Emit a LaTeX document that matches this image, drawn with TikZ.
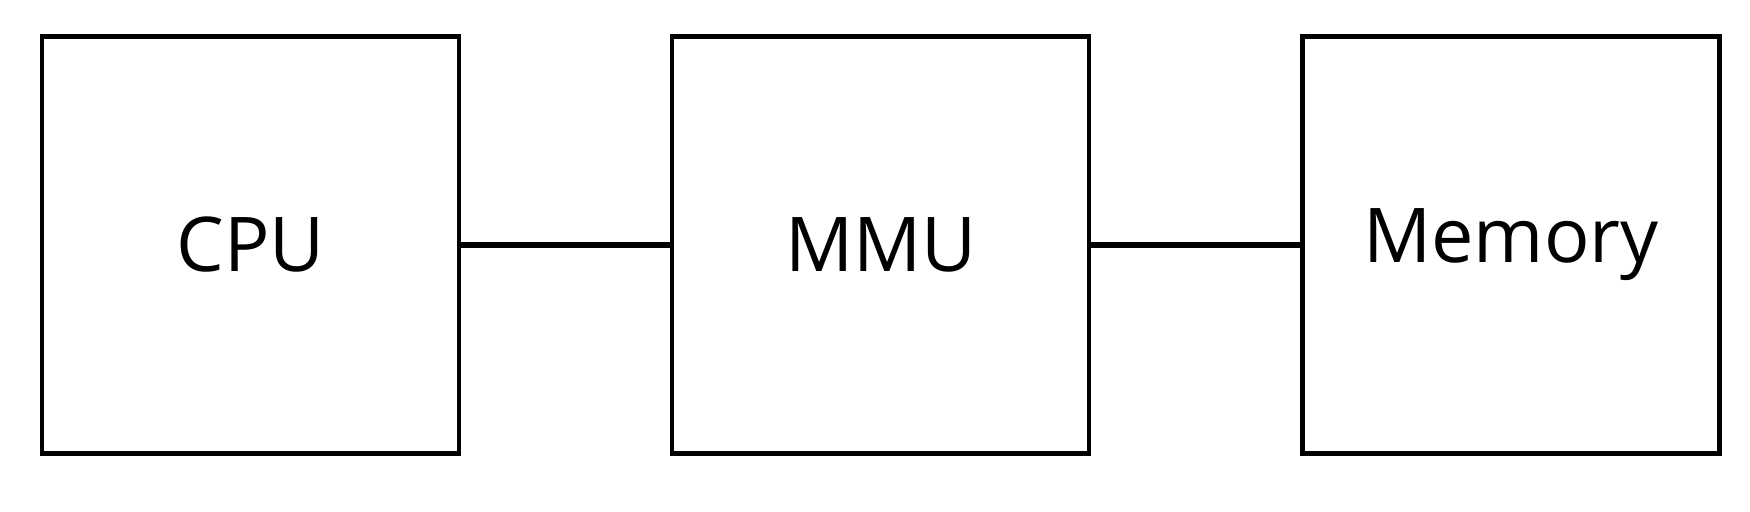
\documentclass[tikz,border=0pt]{standalone}
\usepackage{fontspec}
\setmainfont{Open Sans}
\usepackage{tikz}
\usetikzlibrary{positioning}
\tikzset{%
  every unit/.style={
    rectangle,
    draw,
    line width=1.2pt,
    minimum size=4.17cm,
    font=\fontsize{21.5}{26}\selectfont
  },
  unit link/.style={
    line width=1.9pt
  },
}

\begin{document}
\begin{tikzpicture}[node distance=2.09cm]
          \useasboundingbox (0,0) rectangle (17.5,5.12);
          \node[every unit] (U1) at (2.506,2.67) {CPU};
          \node[every unit, right=of U1] (U2) {MMU};
          \node[every unit, right=of U2] (U3) {Memory};
          \foreach \i/\j in {1/2,2/3} {
              \draw[unit link] (U\i) -- (U\j);
          }
          \end{tikzpicture}
\end{document}
